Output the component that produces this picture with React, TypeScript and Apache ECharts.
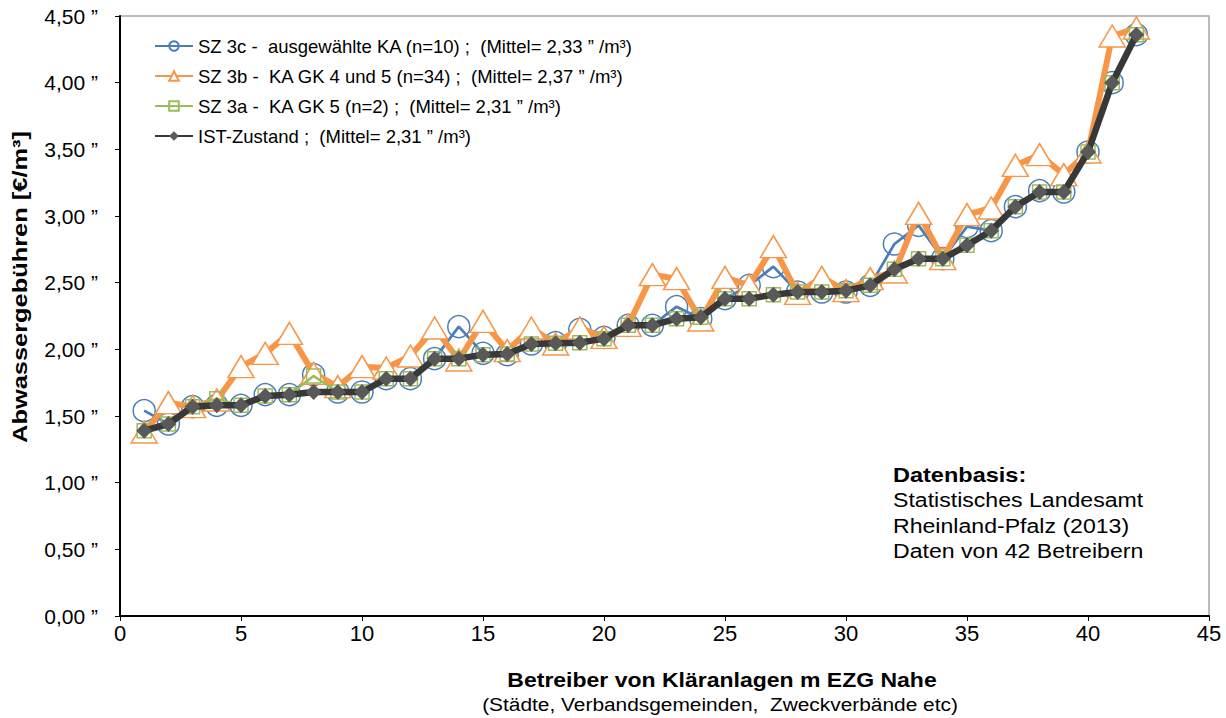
import React, { useEffect, useRef } from "react";
import * as echarts from "echarts";

const xValues = [1,2,3,4,5,6,7,8,9,10,11,12,13,14,15,16,17,18,19,20,21,22,23,24,25,26,27,28,29,30,31,32,33,34,35,36,37,38,39,40,41,42];

const sz3c = [1.54,1.44,1.57,1.58,1.58,1.66,1.66,1.81,1.68,1.68,1.78,1.78,1.93,2.17,1.97,1.96,2.04,2.05,2.15,2.09,2.18,2.18,2.32,2.23,2.38,2.48,2.62,2.43,2.43,2.43,2.48,2.79,2.93,2.68,2.92,2.89,3.07,3.19,3.18,3.48,4.0,4.36];
const sz3b = [1.38,1.6,1.57,1.62,1.87,1.97,2.12,1.82,1.72,1.87,1.86,1.95,2.16,1.92,2.21,1.99,2.16,2.04,2.16,2.09,2.18,2.56,2.53,2.22,2.54,2.48,2.77,2.42,2.54,2.44,2.53,2.58,3.02,2.68,3.01,3.06,3.38,3.46,3.31,3.48,4.35,4.41];
const sz3a = [1.39,1.44,1.57,1.63,1.58,1.65,1.66,1.8,1.68,1.68,1.78,1.78,1.93,1.93,1.96,1.965,2.04,2.045,2.05,2.08,2.18,2.18,2.23,2.24,2.38,2.38,2.41,2.43,2.43,2.44,2.48,2.6,2.68,2.68,2.78,2.89,3.07,3.18,3.18,3.48,4.0,4.36];
const ist = [1.39,1.44,1.57,1.58,1.58,1.65,1.66,1.68,1.68,1.68,1.78,1.78,1.93,1.93,1.96,1.965,2.04,2.045,2.05,2.08,2.18,2.18,2.23,2.24,2.38,2.38,2.41,2.43,2.43,2.44,2.48,2.6,2.68,2.68,2.78,2.89,3.07,3.18,3.18,3.48,4.0,4.36];

const seriesNames = [
  "SZ 3c -  ausgewählte KA (n=10) ;  (Mittel= 2,33 ” /m³)",
  "SZ 3b -  KA GK 4 und 5 (n=34) ;  (Mittel= 2,37 ” /m³)",
  "SZ 3a -  KA GK 5 (n=2) ;  (Mittel= 2,31 ” /m³)",
  "IST-Zustand ;  (Mittel= 2,31 ” /m³)",
];

const yAxisTitle = "Abwassergebühren [€/m³]";
const xAxisTitle = "Betreiber von Kläranlagen m EZG Nahe";
const xAxisSubtitle = "(Städte, Verbandsgemeinden,  Zweckverbände etc)";
const noteTitle = "Datenbasis:";
const noteLines = ["Statistisches Landesamt", "Rheinland-Pfalz (2013)", "Daten von 42 Betreibern"];

const FONT = "'Liberation Sans', Arial, sans-serif";

const pair = (ys: number[]) => xValues.map((x, i) => [x, ys[i]]);

export default function App() {
  const ref = useRef<HTMLDivElement>(null);
  useEffect(() => {
    if (!ref.current) return;
    const chart = echarts.init(ref.current, undefined, { renderer: "svg" });
    const txt = (
      text: string,
      x: number,
      y: number,
      font: string,
      align: string,
      scaleX: number,
      rotation = 0
    ) => ({
      type: "text",
      x,
      y,
      rotation,
      scaleX,
      style: {
        text,
        font,
        fill: "#000",
        textAlign: align,
        textVerticalAlign: "middle",
      },
    });
    chart.setOption({
      animation: false,
      backgroundColor: "#fff",
      textStyle: { fontFamily: FONT },
      grid: {
        left: 120,
        top: 16,
        width: 1089,
        height: 600,
        show: true,
        borderColor: "#a6a6a6",
        borderWidth: 1.5,
      },
      legend: {
        orient: "vertical",
        left: 149,
        top: 31,
        padding: 5,
        itemWidth: 38,
        itemHeight: 12,
        itemGap: 10,
        textStyle: { fontFamily: FONT, fontSize: 18.5, lineHeight: 20, color: "#000" },
        data: seriesNames,
      },
      xAxis: {
        type: "value",
        min: 0,
        max: 45,
        interval: 5,
        axisLine: { show: true, lineStyle: { color: "#000", width: 2 } },
        axisTick: { show: true, length: 5, lineStyle: { color: "#000", width: 1 } },
        axisLabel: { fontFamily: FONT, fontSize: 22, color: "#000", margin: 6 },
        splitLine: { show: false },
      },
      yAxis: {
        type: "value",
        min: 0,
        max: 4.5,
        interval: 0.5,
        axisLine: { show: true, lineStyle: { color: "#000", width: 2 } },
        axisTick: { show: true, length: 5, lineStyle: { color: "#000", width: 1 } },
        axisLabel: {
          fontFamily: FONT,
          fontSize: 21,
          color: "#000",
          margin: 22,
          formatter: (v: number) => v.toFixed(2).replace(".", ",") + " ”",
        },
        splitLine: { show: false },
      },
      series: [
        {
          name: seriesNames[0],
          type: "line",
          data: pair(sz3c),
          z: 2,
          symbol: "circle",
          symbolSize: 22,
          lineStyle: { color: "#4a7ebb", width: 2.75 },
          itemStyle: { color: "rgba(255,255,255,0)", borderColor: "#4a7ebb", borderWidth: 1.5 },
        },
        {
          name: seriesNames[1],
          type: "line",
          data: pair(sz3b),
          z: 3,
          symbol: "triangle",
          symbolSize: [26, 22],
          lineStyle: { color: "#f79646", width: 6 },
          itemStyle: { color: "#ffffff", borderColor: "#f79646", borderWidth: 1.5 },
        },
        {
          name: seriesNames[2],
          type: "line",
          data: pair(sz3a),
          z: 4,
          symbol: "rect",
          symbolSize: 14,
          lineStyle: { color: "#9bbb59", width: 2.5 },
          itemStyle: { color: "rgba(255,255,255,0)", borderColor: "#9bbb59", borderWidth: 1.5 },
        },
        {
          name: seriesNames[3],
          type: "line",
          data: pair(ist),
          z: 5,
          symbol: "diamond",
          symbolSize: 16,
          lineStyle: { color: "#383838", width: 6.5 },
          itemStyle: { color: "#595959", borderColor: "#595959", borderWidth: 0 },
        },
      ],
      graphic: [
        txt(yAxisTitle, 20, 287, `bold 20px ${FONT}`, "center", 1.27, Math.PI / 2),
        txt(xAxisTitle, 722, 680, `bold 20px ${FONT}`, "center", 1.15),
        txt(xAxisSubtitle, 720, 705, `18px ${FONT}`, "center", 1.16),
        txt(noteTitle, 893, 475, `bold 21px ${FONT}`, "left", 1.12),
        ...noteLines.map((t, i) => txt(t, 893, 500 + i * 25.5, `21px ${FONT}`, "left", 1.1)),
      ],
    });
    return () => chart.dispose();
  }, []);
  return (
    <div
      ref={ref}
      style={{ position: "absolute", left: 0, top: 0, width: 1226, height: 718 }}
    />
  );
}
